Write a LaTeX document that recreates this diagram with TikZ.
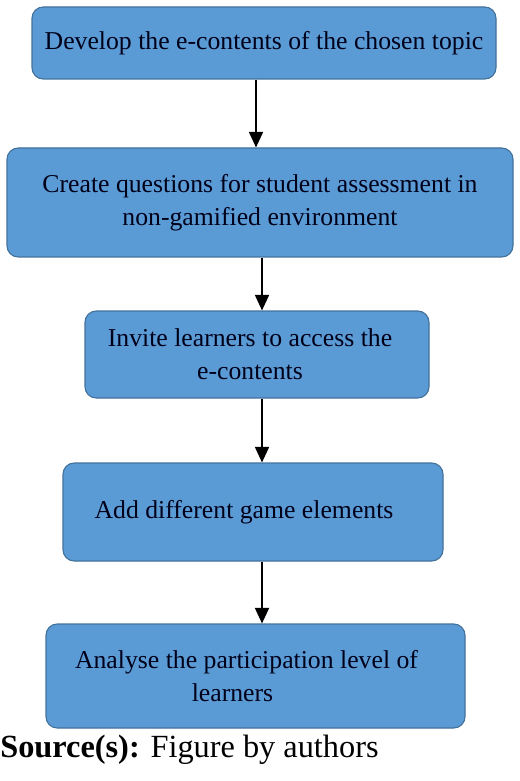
\documentclass[tikz,border=0pt]{standalone}
\usepackage{fontspec}
\setmainfont{Liberation Serif}
\usetikzlibrary{arrows.meta}

\definecolor{boxfill}{HTML}{5B9BD5}
\definecolor{boxline}{HTML}{41719C}

\begin{document}
\begin{tikzpicture}[
		stepbox/.style={draw=boxline, fill=boxfill, rounded corners=8pt, line width=0.8pt,
			align=center, inner sep=0pt, font=\fontsize{18.3}{23.4}\selectfont, text=black!90!blue},
		flow/.style={line width=1pt, -{Triangle[width=10pt,length=11pt]}}
	]
	%\draw[help lines] (0, -20) grid (13, 0);
	\useasboundingbox (0,0) rectangle (13,-19.525);

	\node[stepbox, minimum width=11.6cm, minimum height=1.8cm] (develop) at (6.6,-1.075)
		{Develop the e-contents of the chosen topic};
	\node[stepbox, minimum width=12.65cm, minimum height=2.725cm] (questions) at (6.5,-5.0625)
		{Create questions for student assessment in\\ non-gamified environment};
	\node[stepbox, minimum width=8.6cm, minimum height=2.175cm] (invite) at (6.425,-8.8625)
		{Invite learners to access the\hspace*{0.35cm}\\ e-contents\hspace*{0.35cm}};
	\node[stepbox, minimum width=9.5cm, minimum height=2.45cm] (game) at (6.325,-12.8)
		{Add different game elements\hspace*{0.45cm}};
	\node[stepbox, minimum width=10.475cm, minimum height=2.6cm] (analyse) at (6.3875,-16.9)
		{Analyse the participation level of\hspace*{0.45cm}\\ learners\hspace*{1.15cm}};

	\coordinate (xa) at (6.4,0);
	\coordinate (xb) at (6.55,0);

	\draw[flow] (develop.south -| xa)  -- (questions.north -| xa);
	\draw[flow] (questions.south -| xb) -- (invite.north -| xb);
	\draw[flow] (invite.south -| xb)    -- (game.north -| xb);
	\draw[flow] (game.south -| xb)      -- (analyse.north -| xb);

	\node[anchor=base west, inner sep=0pt, font=\fontsize{23}{26}\selectfont] (source) at (0,-18.925)
		{\textbf{Source(s):} Figure by authors};
\end{tikzpicture}
\end{document}
